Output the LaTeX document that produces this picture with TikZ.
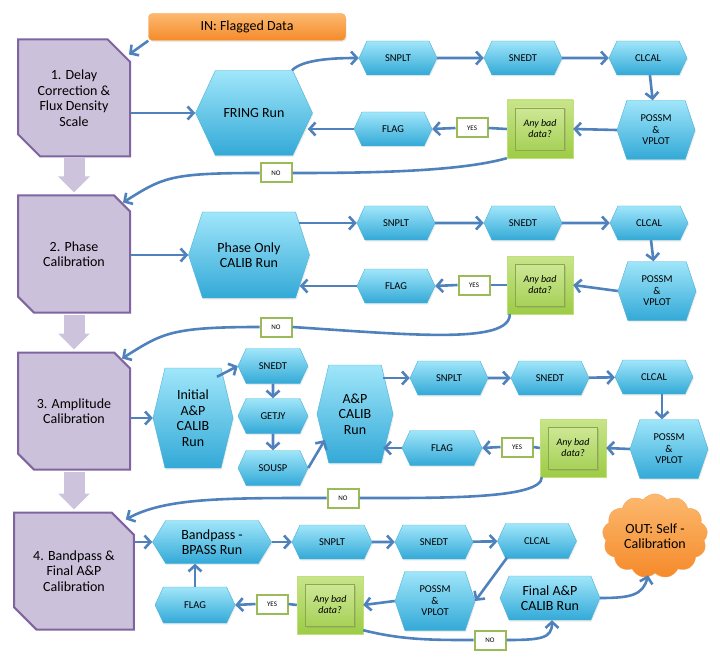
\documentclass[tikz,border=0pt]{standalone}
\usepackage{fontspec}
\setmainfont{Carlito}
\usepackage{tikz}
\usetikzlibrary{calc,arrows.meta,shapes.symbols,shapes.misc,shadows}
\definecolor{flowblue}{HTML}{4F81BD}
\definecolor{hextop}{HTML}{A0E6FA}
\definecolor{hexbot}{HTML}{33A9D7}
\definecolor{hexline}{HTML}{4DB2D6}
\definecolor{stagefill}{HTML}{CCC1DA}
\definecolor{stageline}{HTML}{8064A2}
\definecolor{stagearrow}{HTML}{CDC3DC}
\definecolor{greentop}{HTML}{C8E58A}
\definecolor{greenbot}{HTML}{9DCC45}
\definecolor{greenline}{HTML}{9BBB59}
\definecolor{orangetop}{HTML}{FCB96F}
\definecolor{orangebot}{HTML}{F58A2A}
\tikzstyle{stage} = [
    chamfered rectangle,
    chamfered rectangle corners={north east,south west},
    chamfered rectangle xsep=19pt,
    draw=stageline,
    fill=stagefill,
    line width=2pt,
    minimum width=112pt,
    minimum height=117pt,
    inner sep=0pt,
    align=center,
    font=\fontsize{14}{15.5}\selectfont
    ]
\tikzstyle{bighex} = [
    signal,
    signal from=nowhere,
    signal to=east and west,
    signal pointer angle=130,
    draw=hexline,
    top color=hextop,
    bottom color=hexbot,
    inner sep=0pt,
    align=center,
    drop shadow={opacity=0.15,shadow xshift=1pt,shadow yshift=-1.5pt},
    font=\fontsize{14}{15.5}\selectfont
    ]
\tikzstyle{smallhex} = [
    bighex,
    minimum width=78pt,
    minimum height=34pt,
    font=\fontsize{10.5}{11.5}\selectfont
    ]
\tikzstyle{possm} = [
    smallhex,
    signal pointer angle=143,
    minimum height=59pt
    ]
\tikzstyle{decision} = [
    rectangle,
    draw=greentop!80!greenbot,
    top color=greentop,
    bottom color=greenbot,
    minimum width=66pt,
    minimum height=58pt
    ]
\tikzstyle{decisionin} = [
    rectangle,
    draw=greenline!90!black,
    top color=greentop!90!white,
    bottom color=greenbot!90!white,
    minimum width=49pt,
    minimum height=42pt,
    align=center,
    drop shadow={opacity=0.25,shadow xshift=1.5pt,shadow yshift=-1.5pt},
    font=\fontsize{10}{11}\selectfont\itshape
    ]
\tikzstyle{answer} = [
    rectangle,
    draw=greenline,
    fill=white,
    line width=2pt,
    minimum width=31pt,
    minimum height=19pt,
    font=\fontsize{7}{8}\selectfont
    ]
\tikzstyle{flow} = [
    draw=flowblue,
    line width=2.6pt,
    -{Straight Barb[length=6pt,width=13pt]}
    ]
\tikzstyle{plain} = [
    draw=flowblue,
    line width=2.6pt
    ]
\tikzstyle{stagearr} = [
    draw=stagearrow,
    line width=21pt,
    -{Triangle[length=16pt,width=31pt]}
    ]
\begin{document}
\begin{tikzpicture}[x=1pt,y=-1pt]
\useasboundingbox (0,0) rectangle (720,663);
% input
\node[rectangle, rounded corners=4pt, top color=orangetop, bottom color=orangebot,
    draw=orangebot!80!white, minimum width=197pt, minimum height=27pt,
    drop shadow={opacity=0.15,shadow xshift=1pt,shadow yshift=-1.5pt},
    font=\fontsize{14}{16}\selectfont] (in) at (247,27) {IN: Flagged Data};
% stages
\node[stage] (b1) at (74,98) {1. Delay\\Correction \&\\Flux Density\\Scale};
\node[stage] (b2) at (74,254) {2. Phase\\Calibration};
\node[stage] (b3) at (74,411) {3. Amplitude\\Calibration};
\node[stage] (b4) at (74,571) {4. Bandpass \&\\Final A\&P\\Calibration};
\draw[stagearr] ([yshift=-1pt]b1.south) -- ([yshift=2pt]b2.north);
\draw[stagearr] ([yshift=-1pt]b2.south) -- ([yshift=2pt]b3.north);
\draw[stagearr] ([yshift=-1pt]b3.south) -- ([yshift=2pt]b4.north);

% row 1
\node[bighex, minimum width=117pt, minimum height=85pt] (fr) at (254,113) {FRING Run};
\node[smallhex] (sn1) at (398,58) {SNPLT};
\node[smallhex] (se1) at (523,58) {SNEDT};
\node[smallhex] (cl1) at (648,58) {CLCAL};
\node[possm] (po1) at (656,130) {POSSM\\\&\\VPLOT};
\node[decision] (q1) at (540,129) {};
\node[decisionin] (q1t) at (q1) {Any bad\\data?};
\node[answer] (y1) at (472,128) {YES};
\node[smallhex] (fl1) at (393,129) {FLAG};
\node[answer] (n1) at (276,173) {NO};
\draw[flow] (in.south west) -- ($(b1.east |- b1.north)+(-2,16)$);
\draw[flow] (b1.east |- fr.west) -- (fr.west);
\draw[flow] ($(fr.north)+(38,0)$) .. controls +(10,-10) and +(-30,0) .. (sn1.west);
\draw[flow] (sn1) -- (se1);
\draw[flow] (se1) -- (cl1);
\draw[flow] (cl1) -- (po1);
\draw[flow] (po1.west) -- (q1.east);
\draw[plain] (q1.west) -- (y1.east);
\draw[flow] (y1.west) -- (fl1.east);
\draw[flow] (fl1.west) -- ($(fr.east |- fl1.west)+(-5,0)$);
\draw[plain] (q1.south west) .. controls +(-50,14) and +(70,0) .. (n1.east);
\draw[flow] (n1.west) .. controls +(-90,0) and +(40,-25) .. ($(b2.east |- b2.north)+(-8,8)$);

% row 2
\node[bighex, signal pointer angle=144, minimum width=121pt, minimum height=86pt] (ph) at (249,255) {Phase Only\\CALIB Run};
\node[smallhex] (sn2) at (396,223) {SNPLT};
\node[smallhex] (se2) at (523,223) {SNEDT};
\node[smallhex] (cl2) at (649,223) {CLCAL};
\node[possm] (po2) at (657,291) {POSSM\\\&\\VPLOT};
\node[decision] (q2) at (540,285) {};
\node[decisionin] (q2t) at (q2) {Any bad\\data?};
\node[answer] (y2) at (474,285) {YES};
\node[smallhex] (fl2) at (396,286) {FLAG};
\node[answer] (n2) at (276,327) {NO};
\draw[flow] (b2.east |- ph.west) -- (ph.west);
\draw[flow] ($(sn2.west -| ph.east)+(-11,0)$) -- (sn2.west);
\draw[flow] (sn2) -- (se2);
\draw[flow] (se2) -- (cl2);
\draw[flow] (cl2) -- (po2);
\draw[flow] (po2.west) -- (q2.east);
\draw[plain] (q2.west) -- (y2.east);
\draw[flow] (y2.west) -- (fl2.east);
\draw[flow] (fl2.west) -- ($(ph.east |- fl2.west)+(-10,0)$);
\draw[plain] ([xshift=3pt]q2.south west) .. controls +(0,30) and +(120,8) .. (n2.east);
\draw[flow] (n2.west) .. controls +(-90,0) and +(40,-25) .. ($(b3.east |- b3.north)+(-9,7)$);

% row 3
\node[bighex, signal pointer angle=153, minimum width=80pt, minimum height=100pt] (ini) at (193,418) {Initial\\A\&P\\CALIB\\Run};
\node[smallhex, minimum width=70pt, minimum height=35pt] (se3a) at (273,366) {SNEDT};
\node[smallhex, minimum width=70pt, minimum height=35pt] (gj) at (273,416) {GETJY};
\node[smallhex, minimum width=70pt, minimum height=35pt] (so) at (273,468) {SOUSP};
\node[bighex, signal pointer angle=153, minimum width=76pt, minimum height=98pt] (ap) at (355,414) {A\&P\\CALIB\\Run};
\node[smallhex] (sn3) at (449,378) {SNPLT};
\node[smallhex] (se3) at (550,378) {SNEDT};
\node[smallhex] (cl3) at (654,377) {CLCAL};
\node[possm] (po3) at (669,449) {POSSM\\\&\\VPLOT};
\node[decision] (q3) at (573,448) {};
\node[decisionin] (q3t) at (q3) {Any bad\\data?};
\node[answer] (y3) at (517,447) {YES};
\node[smallhex, minimum width=80pt, minimum height=35pt] (fl3) at (442,448) {FLAG};
\node[answer] (n3) at (343,498) {NO};
\draw[flow] (b3.east |- ini.west) -- (ini.west);
\draw[flow] ($(ini.north)+(24,9)$) -- (se3a.west);
\draw[flow] (se3a) -- (gj);
\draw[flow] (gj) -- (so);
\draw[flow] (so.east) -- ($(ap.west)+(8,26)$);
\draw[flow] ($(sn3.west -| ap.east)+(-10,0)$) -- (sn3.west);
\draw[flow] (sn3) -- (se3);
\draw[flow] (se3) -- (cl3);
\draw[flow] ([xshift=8pt]cl3.south) -- ([xshift=8pt]cl3.south |- po3.north);
\draw[flow] (po3.west) -- (q3.east);
\draw[plain] (q3.west) -- (y3.east);
\draw[flow] (y3.west) -- (fl3.east);
\draw[flow] (fl3.west) -- ($(ap.east |- fl3.west)+(-10,0)$);
\draw[plain] ([xshift=2pt]q3.south west) .. controls +(0,22) and +(80,0) .. (n3.east);
\draw[flow] (n3.west) .. controls +(-100,0) and +(40,-22) .. ($(b4.east |- b4.north)+(-9,8)$);

% row 4
\node[bighex, signal pointer angle=117, minimum width=119pt, minimum height=43pt] (bp) at (212,542) {Bandpass -\\BPASS Run};
\node[smallhex, minimum width=80pt] (sn4) at (332,542) {SNPLT};
\node[smallhex] (se4) at (434,542) {SNEDT};
\node[smallhex, minimum width=79pt, minimum height=35pt] (cl4) at (537,541) {CLCAL};
\node[possm, minimum width=80pt] (po4) at (435,601) {POSSM\\\&\\VPLOT};
\node[decision] (q4) at (330,605) {};
\node[decisionin] (q4t) at (q4) {Any bad\\data?};
\node[answer] (y4) at (272,604) {YES};
\node[smallhex, minimum width=80pt, minimum height=36pt] (fl4) at (195,605) {FLAG};
\node[bighex, signal pointer angle=135, minimum width=100pt, minimum height=44pt] (fin) at (550,598) {Final A\&P\\CALIB Run};
\node[answer] (n4) at (490,640) {NO};
\node[cloud, cloud puffs=13, cloud puff arc=110, aspect=1.3, minimum width=105pt, minimum height=84pt,
    top color=orangetop, bottom color=orangebot, draw=orangebot!80!white, align=center,
    font=\fontsize{14}{15.5}\selectfont] (out) at (655,536) {OUT: Self -\\Calibration};
\draw[flow] (b4.east |- bp.west) -- (bp.west);
\draw[flow] (bp.east) -- (sn4.west);
\draw[flow] (sn4) -- (se4);
\draw[flow] (se4) -- (cl4);
\draw[flow] ($(cl4.south)+(-30,-1)$) -- (po4.east);
\draw[flow] (po4.west) -- (q4.east);
\draw[plain] (q4.west) -- (y4.east);
\draw[flow] (y4.west) -- (fl4.east);
\draw[flow] (fl4.north) -- (fl4.north |- bp.south);
\draw[plain] ($(q4.south east)+(0,-4)$) .. controls +(40,10) and +(-40,0) .. (n4.west);
\draw[flow] (n4.east) .. controls +(35,0) and +(0,18) .. ($(fin.south)+(2,0)$);
\draw[flow] (fin.east) .. controls +(30,0) and +(-5,20) .. ($(out.south)+(-7,2)$);
\end{tikzpicture}
\end{document}
